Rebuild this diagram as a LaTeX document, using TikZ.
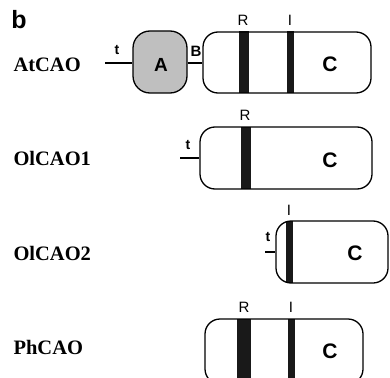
\documentclass[tikz,border=0pt]{standalone}
\usepackage{fontspec}
\setmainfont{Liberation Serif}
\setsansfont{Liberation Sans}
\begin{document}
\begin{tikzpicture}[x=1pt,y=-1pt,
  protbox/.style={draw, line width=1.3pt, rounded corners=15pt, inner sep=0pt, minimum height=62pt},
  adom/.style={protbox, fill=gray!50, rounded corners=17pt, minimum width=54pt},
  bandbar/.style={fill=black!90, inner sep=0pt, minimum height=62pt},
  link/.style={line width=1.3pt},
  gname/.style={anchor=west, font=\rmfamily\bfseries\fontsize{20.5}{20.5}\selectfont},
  dlabel/.style={font=\sffamily\bfseries\fontsize{21}{21}\selectfont},
  site/.style={font=\sffamily\fontsize{15}{15}\selectfont},
  small/.style={font=\sffamily\bfseries\fontsize{14}{14}\selectfont}]
\useasboundingbox (0,0) rectangle (390,377);
\node[font=\sffamily\bfseries\fontsize{25}{25}\selectfont] (b) at (19,20) {b};
% AtCAO
\node[gname] (n1) at (10,65) {AtCAO};
\node[bandbar, minimum width=10pt] (r1) at (244,62.5) {};
\node[bandbar, minimum width=7pt] (i1) at (290.5,62.5) {};
\node[protbox, minimum width=168pt, minimum height=61pt] (c1) at (287,62.5) {};
\node[dlabel] at (330,64) {C};
\node[adom] (a1) at (160,62) {};
\node[dlabel, font=\sffamily\bfseries\fontsize{19}{19}\selectfont] at (161,65) {A};
\coordinate (t1) at (105,63);
\draw[link] (t1) -- (t1 -| a1.west);
\draw[link] (a1.east |- 0,63) -- (c1.west |- 0,63);
\node[small] at (117,50) {t};
\node[small, font=\sffamily\bfseries\fontsize{15}{15}\selectfont] at (196,51) {B};
\node[site] at (243,20) {R};
\node[site] at (290,20) {I};
% OlCAO1
\node[gname] (n2) at (10,158) {OlCAO1};
\node[bandbar, minimum width=10pt] (r2) at (246,158) {};
\node[protbox, minimum width=172pt] (c2) at (286,158) {};
\node[dlabel] at (330,160) {C};
\coordinate (t2) at (180,158);
\draw[link] (t2) -- (c2.west |- t2);
\node[small] at (188,145) {t};
\node[site] at (245,115) {R};
% OlCAO2
\node[gname] (n3) at (10,253) {OlCAO2};
\node[bandbar, minimum width=7pt] (i3) at (289.5,252) {};
\node[protbox, minimum width=112pt] (c3) at (332,252) {};
\node[dlabel] at (355,253) {C};
\coordinate (t3) at (265,252);
\draw[link] (t3) -- (c3.west |- t3);
\node[small] at (268,237) {t};
\node[site] at (289,210) {I};
% PhCAO
\node[gname] (n4) at (10,347) {PhCAO};
\node[bandbar, minimum width=14pt, minimum height=65pt] (r4) at (244,351.5) {};
\node[bandbar, minimum width=7pt, minimum height=65pt] (i4) at (291.5,351.5) {};
\node[protbox, minimum width=158pt, minimum height=65pt] (c4) at (284,351.5) {};
\node[dlabel] at (330,351) {C};
\node[site] at (244,307) {R};
\node[site] at (291,307) {I};
\end{tikzpicture}
\end{document}
